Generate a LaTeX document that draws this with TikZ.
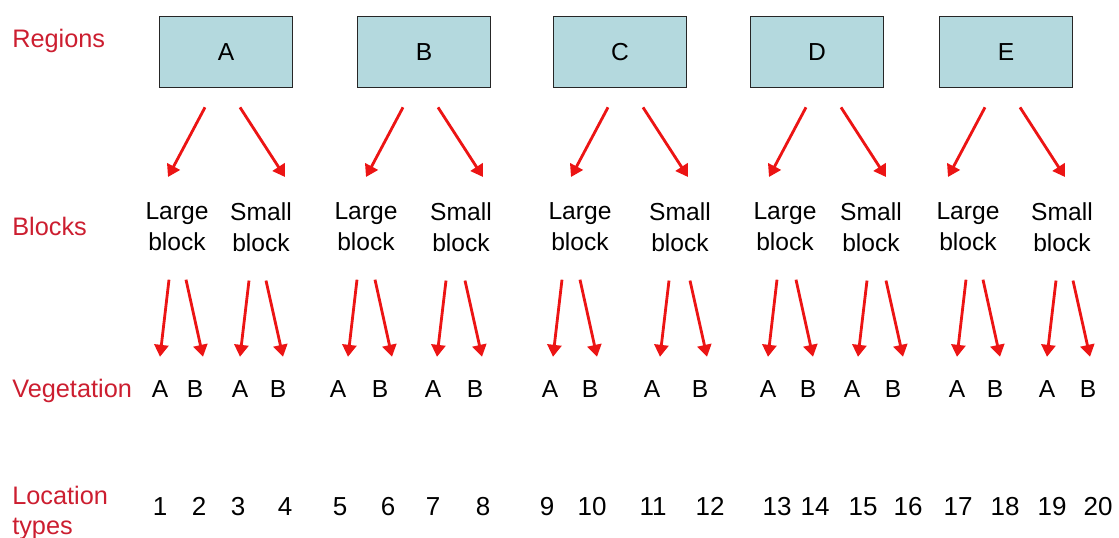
\documentclass[tikz,border=0pt]{standalone}
\usepackage{fontspec}
\setmainfont{Liberation Sans}
\usetikzlibrary{arrows.meta,calc}
\definecolor{regionfill}{RGB}{180,217,222}
\definecolor{labelred}{RGB}{204,30,48}
\definecolor{arrowred}{RGB}{236,20,20}

\begin{document}
\begin{tikzpicture}[x=0.025cm, y=-0.025cm,
    region/.style={draw=black!85, line width=1.2pt, fill=regionfill, minimum width=3.325cm, minimum height=1.775cm, font=\fontsize{17.5}{22}\selectfont},
    rowlabel/.style={inner sep=0, text=labelred, align=left, font=\fontsize{18}{21}\selectfont},
    txt/.style={inner sep=0, font=\fontsize{17.5}{22}\selectfont},
    num/.style={anchor=base, inner sep=0, font=\fontsize{18.5}{22}\selectfont},
    arr/.style={arrowred, line width=2pt, -{Triangle[width=10pt,length=8.5pt]}}]
  \useasboundingbox (0,0) rectangle (1119,538);
  % row labels
  \node[rowlabel, anchor=base west] (regions) at (12,48) {Regions};
  \node[rowlabel, anchor=base west] (blocks) at (12,235) {Blocks};
  \node[rowlabel, anchor=base west] (vegetation) at (12,397) {Vegetation};
  \node[rowlabel, anchor=north west] (location) at (12,486) {Location\\types};
  % regions and blocks
  \foreach \reg/\bx/\lx/\sx/\s in {A/226/177/261/0, B/424/366/461/0, C/620/580/680/9, D/817/785/871/10, E/1006/968/1062/0}{
    \node[region] (R\reg) at (\bx,52) {\reg};
    \node[txt, anchor=north, align=center] (L\reg) at (\lx,202) {Large\\block};
    \node[txt, anchor=north, align=center] (S\reg) at (\sx,202) {Small\\block};
    \draw[arr] ($(R\reg.south)+(\s-21,19)$) -- ($(L\reg.north)+(\bx+\s-58-\lx,-25)$);
    \draw[arr] ($(R\reg.south)+(\s+14,19)$) -- ($(S\reg.north)+(\bx+\s+59-\sx,-25)$);
  }
  % vegetation
  \foreach \i/\x/\t/\b in {1/160/160/LA, 2/195/203/LA, 3/240/240/SA, 4/278/283/SA, 5/338/348/LB, 6/380/392/LB, 7/433/437/SB, 8/475/482/SB, 9/550/553/LC, 10/590/597/LC, 11/652/660/SC, 12/700/707/SC, 13/768/768/LD, 14/808/813/LD, 15/852/858/SD, 16/893/903/SD, 17/957/957/LE, 18/995/1000/LE, 19/1047/1047/SE, 20/1088/1090/SE}{
    \pgfmathsetmacro{\dx}{ifthenelse(isodd(\i),9,-17)}
    \node[txt, anchor=base] (v\i) at (\x,397) {\ifodd\i\relax A\else B\fi};
    \draw[arr] ($(v\i |- \b.south)+(\t-\x+\dx,29)$) -- ($(v\i.north)+(\t-\x,-23)$);
  }
  % location types
  \foreach \i/\x in {1/160, 2/199, 3/238, 4/285, 5/340, 6/388, 7/433, 8/483, 9/547, 10/592, 11/653, 12/710, 13/777, 14/815, 15/863, 16/908, 17/958, 18/1005, 19/1052, 20/1098}
    \node[num] (n\i) at (\x,515) {\i};
\end{tikzpicture}
\end{document}
